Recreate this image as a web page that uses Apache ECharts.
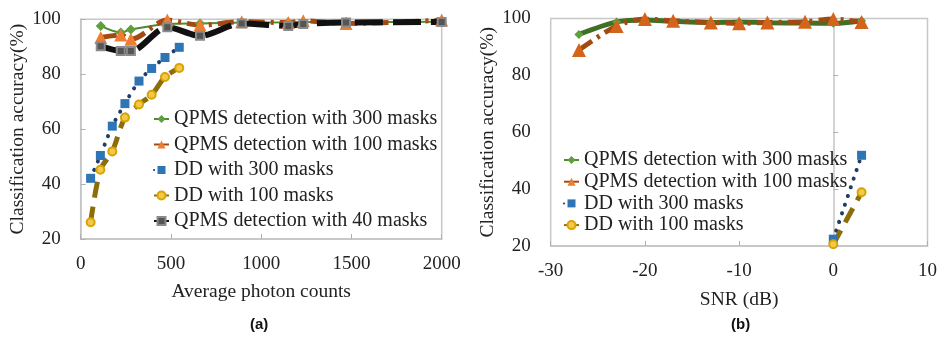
<!DOCTYPE html>
<html>
<head>
<meta charset="utf-8">
<script src="https://cdn.jsdelivr.net/npm/echarts@6/dist/echarts.min.js"></script>
<style>
  html, body { margin: 0; padding: 0; background: #fff; }
  #main { width: 940px; height: 344px; }
</style>
</head>
<body>
<div id="main"></div>
<script>
  // (a) photon counts
  const photonQ = [111, 222, 278, 480, 661, 892, 1150, 1233, 1470, 2000];
  const qpms300A = [97.6, 95.2, 96.3, 98.3, 98.5, 98.8, 98.9, 99.0, 99.0, 99.1];
  const qpms100A = [93.4, 94.3, 92.7, 99.7, 97.9, 99.1, 98.8, 99.5, 98.5, 99.7];
  const qpms40A = [90.2, 88.5, 88.5, 97.1, 94.0, 98.5, 97.6, 98.3, 98.8, 99.0];
  const photonDD = [55, 109, 175, 245, 323, 393, 467, 546];
  const dd300A = [42.1, 50.4, 61.1, 69.3, 77.5, 82.1, 86.1, 89.8];
  const dd100A = [26.1, 45.2, 51.9, 64.2, 69.0, 72.5, 79.0, 82.3];

  // (b) SNR
  const snrQ = [-27, -23, -20, -17, -13, -10, -7, -3, 0, 3];
  const qpms300B = [94.4, 98.8, 99.5, 99.0, 98.6, 98.8, 98.5, 98.4, 98.3, 99.2];
  const qpms100B = [88.9, 97.4, 99.8, 99.2, 98.6, 98.3, 98.6, 98.9, 99.8, 98.8];
  const snrDD = [0, 3];
  const dd300B = [22.4, 51.9];
  const dd100B = [20.6, 38.9];

  const names = [
    'QPMS detection with 300 masks',
    'QPMS detection with 100 masks',
    'DD with 300 masks',
    'DD with 100 masks',
    'QPMS detection with 40 masks'
  ];

  const pairs = (xs, ys) => xs.map((x, i) => [x, ys[i]]);
  const serif = 'Liberation Serif';

  function mkSeries(idx, name, xs, ys, style) {
    return Object.assign({
      name: name,
      type: 'line',
      xAxisIndex: idx,
      yAxisIndex: idx,
      smooth: 0.3,
      data: pairs(xs, ys)
    }, style);
  }

  const greenA = {
    symbol: 'diamond', symbolSize: 10,
    itemStyle: {color: '#5e9e3c'},
    lineStyle: {color: '#4f8a2e', width: 2}
  };
  const greenB = {
    symbol: 'diamond', symbolSize: 9,
    itemStyle: {color: '#5e9e3c'},
    lineStyle: {color: '#3e7025', width: 5}
  };
  const orange = {
    symbol: 'triangle', symbolSize: 13,
    itemStyle: {color: '#ed7d31'},
    lineStyle: {color: '#a34a12', width: 5, type: [16, 6, 3, 6]}
  };
  const blue = {
    symbol: 'rect', symbolSize: 9,
    itemStyle: {color: '#2e75b6'},
    lineStyle: {color: '#1f3d6b', width: 4, type: [0.1, 9], cap: 'round'}
  };
  const gold = {
    symbol: 'circle', symbolSize: 8,
    itemStyle: {color: '#f2c94c', borderColor: '#d9a300', borderWidth: 2},
    lineStyle: {color: '#8c6d0a', width: 5, type: [16, 9]}
  };
  const black = {
    symbol: 'rect', symbolSize: 8,
    itemStyle: {color: '#555', borderColor: '#8a8a8a', borderWidth: 2},
    lineStyle: {color: '#111', width: 6, type: [28, 10]}
  };

  const axisBase = {
    type: 'value',
    axisLine: {show: true, lineStyle: {color: '#c4c4c4', width: 1.5}},
    axisTick: {show: true, inside: true, length: 5, lineStyle: {color: '#b0b0b0'}},
    splitLine: {show: false},
    axisLabel: {color: '#222', fontFamily: serif, fontSize: 19, formatter: (v) => String(v)},
    nameLocation: 'middle',
    nameTextStyle: {color: '#222', fontFamily: serif, fontSize: 19.5}
  };

  const legendBase = {
    orient: 'vertical',
    itemWidth: 15,
    itemHeight: 10,
    padding: 0,
    textStyle: {color: '#222', fontFamily: serif, fontSize: 20, lineHeight: 20}
  };

  const chart = echarts.init(document.getElementById('main'));
  const options = {
    animation: false,
    backgroundColor: '#fff',
    grid: [
      {left: 80.7, top: 19.3, width: 361, height: 219.7, show: true,
        borderColor: '#c8c8c8', borderWidth: 1.5},
      {left: 550.7, top: 18.5, width: 378.3, height: 227.5, show: true,
        borderColor: '#c8c8c8', borderWidth: 1.5}
    ],
    xAxis: [
      Object.assign({}, axisBase, {gridIndex: 0, min: 0, max: 2000, interval: 500,
        name: 'Average photon counts', nameGap: 43,
        axisLabel: Object.assign({}, axisBase.axisLabel, {margin: 16})}),
      Object.assign({}, axisBase, {gridIndex: 1, min: -30, max: 10, interval: 10,
        name: 'SNR (dB)', nameGap: 44,
        axisLabel: Object.assign({}, axisBase.axisLabel, {margin: 16})})
    ],
    yAxis: [
      Object.assign({}, axisBase, {gridIndex: 0, min: 20, max: 100, interval: 20,
        name: 'Classification accuracy(%)', nameGap: 50,
        axisLabel: Object.assign({}, axisBase.axisLabel, {margin: 20})}),
      Object.assign({}, axisBase, {gridIndex: 1, min: 20, max: 100, interval: 20,
        name: 'Classification accuracy(%)', nameGap: 51,
        axisLabel: Object.assign({}, axisBase.axisLabel, {margin: 20})})
    ],
    legend: [
      Object.assign({}, legendBase, {left: 153, top: 109, itemGap: 5.5,
        data: names}),
      Object.assign({}, legendBase, {left: 563, top: 150, itemGap: 1.7,
        data: names.slice(0, 4)})
    ],
    graphic: [
      {type: 'text', left: 250, top: 317,
        style: {text: '(a)', fontFamily: 'Liberation Sans', fontWeight: 'bold', fontSize: 15, fill: '#111'}},
      {type: 'text', left: 731, top: 317,
        style: {text: '(b)', fontFamily: 'Liberation Sans', fontWeight: 'bold', fontSize: 15, fill: '#111'}}
    ],
    series: [
      mkSeries(0, names[0], photonQ, qpms300A, greenA),
      mkSeries(0, names[1], photonQ, qpms100A, orange),
      mkSeries(0, names[2], photonDD, dd300A, blue),
      mkSeries(0, names[3], photonDD, dd100A, gold),
      mkSeries(0, names[4], photonQ, qpms40A, black),
      mkSeries(1, names[0], snrQ, qpms300B, greenB),
      mkSeries(1, names[1], snrQ, qpms100B, Object.assign({}, orange,
        {itemStyle: {color: '#d4641c'}, symbolSize: 14})),
      mkSeries(1, names[2], snrDD, dd300B, blue),
      mkSeries(1, names[3], snrDD, dd100B, gold)
    ]
  };
  chart.setOption(options);
</script>
</body>
</html>
